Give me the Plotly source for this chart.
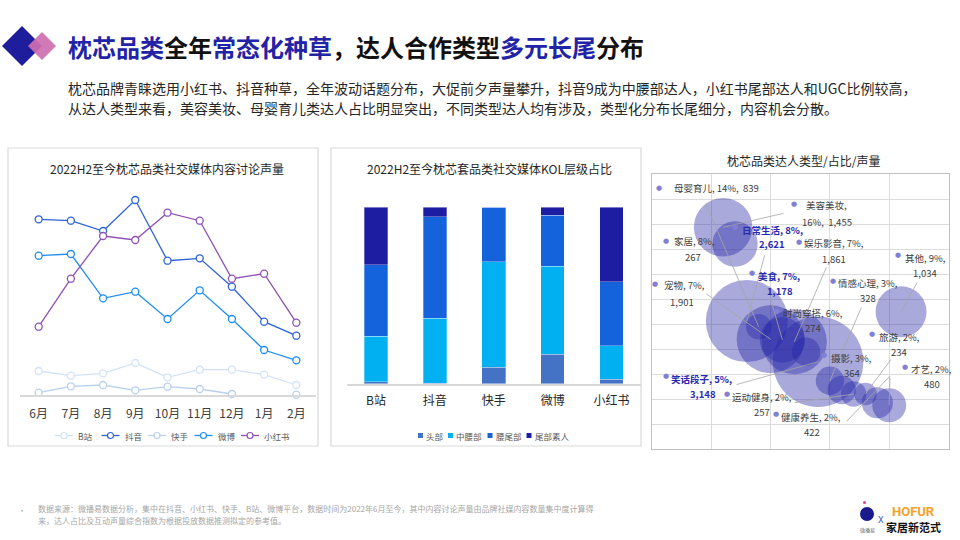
import plotly.graph_objects as go

W, H = 960, 540
FONT = "Noto Sans CJK SC, Noto Sans, sans-serif"

# ---------------- data: line chart (social volume index) ----------------
months = ["6月", "7月", "8月", "9月", "10月", "11月", "12月", "1月", "2月"]
line_names = ["B站", "抖音", "快手", "微博", "小红书"]
vol_bili = [240, 193, 217, 320, 177, 253, 253, 203, 100]
vol_douyin = [1757, 1743, 1640, 1950, 1343, 1367, 1083, 733, 593]
vol_kuaishou = [23, 87, 100, 47, 83, 60, 10, None, 3]
vol_weibo = [1393, 1410, 967, 1033, 760, 1047, 760, 450, 347]
vol_xhs = [683, 1163, 1590, 1550, 1823, 1743, 1163, 1213, 723]

# ---------------- data: stacked bar (KOL tier share, %) ----------------
platforms = ["B站", "抖音", "快手", "微博", "小红书"]
tier_names = ["头部", "中腰部", "腰尾部", "尾部素人"]
tier_head = [1.1, 0.2, 9.3, 16.6, 2.5]
tier_mid = [25.9, 37.0, 59.7, 50.1, 18.9]
tier_waist = [40.3, 57.5, 31.0, 28.8, 36.3]
tier_tail = [32.7, 5.3, 0.0, 4.5, 42.3]

# ---------------- data: bubble chart ----------------
kol_types = ["美容美妆", "家居", "日常生活", "母婴育儿", "宠物", "美食", "娱乐影音", "时尚穿搭",
             "笑话段子", "情感心理", "摄影", "运动健身", "旅游", "才艺", "健康养生", "其他"]
kol_share = [16, 8, 8, 14, 7, 7, 7, 6, 5, 3, 3, 2, 2, 2, 2, 9]
kol_volume = [1455, 267, 2621, 839, 1901, 1178, 1861, 274, 3148, 328, 364, 257, 234, 480, 422, 1034]
bubble_x = [1, 2, 3, 4, 5, 6, 7, 8, 9, 10, 11, 12, 13, 14, 15, 16]
bubble_y = [8.87, 8.2, 5.12, 4.89, 4.39, 4.36, 4.29, 3.89, 3.49, 2.73, 2.36, 2.2, 2.2, 1.85, 1.75, 5.49]
bubble_size = [428, 256, 841, 81, 576, 256, 529, 100, 1024, 100, 100, 81, 64, 121, 144, 324]
highlight = ["日常生活", "美食", "笑话段子"]

# ---------------- helpers (layout only) ----------------
def px(x):
    return x / W


def py(y):
    return 1 - y / H


BX0, BX1, BY0, BY1 = 652, 948.5, 449, 174   # bubble plot area in pixels
XR = (-5, 20)
YR = (0, 11)


def dx(xp):
    return XR[0] + (xp - BX0) / (BX1 - BX0) * (XR[1] - XR[0])


def dy(yp):
    return YR[0] + (BY0 - yp) / (BY0 - BY1) * (YR[1] - YR[0])


fig = go.Figure()

# ---------------- line chart ----------------
line_colors = ["#d3e3f6", "#2f63d4", "#b9d1ee", "#1f8ef1", "#8e50b4"]
for name, vals, col in zip(line_names, [vol_bili, vol_douyin, vol_kuaishou, vol_weibo, vol_xhs], line_colors):
    fig.add_trace(go.Scatter(
        x=months, y=vals, name=name, mode="lines+markers", showlegend=False,
        line=dict(color=col, width=1.3),
        marker=dict(symbol="circle", size=7, color="white", line=dict(color=col, width=1.3)),
        xaxis="x", yaxis="y", cliponaxis=False))

# ---------------- stacked bars ----------------
bar_colors = ["#4472c4", "#00b0f0", "#1463dc", "#1d1da1"]
for name, vals, col in zip(tier_names, [tier_head, tier_mid, tier_waist, tier_tail], bar_colors):
    fig.add_trace(go.Bar(
        x=platforms, y=vals, name=name, showlegend=False,
        marker=dict(color=col, line=dict(color="rgba(255,255,255,0.5)", width=0.6)),
        xaxis="x2", yaxis="y2"))

# ---------------- bubbles ----------------
fig.add_trace(go.Scatter(
    x=bubble_x, y=bubble_y, mode="markers", showlegend=False,
    text=[f"{t}, {s}%, {v:,}" for t, s, v in zip(kol_types, kol_share, kol_volume)],
    hoverinfo="text",
    marker=dict(size=bubble_size, sizemode="area", sizeref=0.25, color="rgba(35,35,165,0.56)", line=dict(width=0)),
    xaxis="x3", yaxis="y3", cliponaxis=False))

# ---------------- bubble labels (layout positions in pixels) ----------------
label_layout = {
    "母婴育儿": dict(dot=(659, 188), l1=(716.5, 188), l2=None, lead=[(705, 202)]),
    "美容美妆": dict(dot=(794, 204), l1=(826.7, 205), l2=(826.7, 221.7), lead=[(785, 213)], split=1),
    "日常生活": dict(dot=(735, 227), l1=(772, 230), l2=(771.7, 244.3), lead=[(765, 254)]),
    "家居": dict(dot=(665.7, 240.7), l1=(694, 241), l2=(692.7, 257.3), lead=None),
    "娱乐影音": dict(dot=(799, 242.3), l1=(834, 243), l2=(834, 259.3), lead=[(827, 266)]),
    "其他": dict(dot=(898.3, 255), l1=(925, 257.7), l2=(925, 272.7), lead=[(918, 281)]),
    "美食": dict(dot=(751.7, 273.3), l1=(778.5, 275.7), l2=(780, 290.7), lead=[(770, 297)]),
    "宠物": dict(dot=(655, 284), l1=(684, 285.3), l2=(681.7, 301.7), lead=[(705, 293)]),
    "情感心理": dict(dot=(832.7, 281), l1=(868, 282.7), l2=(868.3, 298.3), lead=[(862, 306)]),
    "时尚穿搭": dict(dot=(777.3, 311), l1=(813, 313.3), l2=(813.3, 328.3), lead=None),
    "旅游": dict(dot=(871.7, 334.3), l1=(899, 337.3), l2=(899, 352.3), lead=[(892, 358)]),
    "摄影": dict(dot=(824.3, 355.3), l1=(851, 358.3), l2=(851.7, 373.3), lead=None),
    "笑话段子": dict(dot=(665.7, 376), l1=(701.7, 379), l2=(702.7, 394), lead=[(735, 385)]),
    "才艺": dict(dot=(905, 366.7), l1=(931, 369), l2=(931.7, 384), lead=None),
    "运动健身": dict(dot=(726.7, 394), l1=(762, 396.7), l2=(762, 411.7), lead=[(793, 403)]),
    "健康养生": dict(dot=(775.7, 414.3), l1=(811, 416.7), l2=(811.7, 432.3), lead=[(845, 423), (890, 376)]),
}

annotations = []
shapes = []
LEAD_COL = "#a6a6a6"
for i, t in enumerate(kol_types):
    lay = label_layout[t]
    bold = t in highlight
    col = "#2a2ab0" if bold else "#404040"
    s, v = kol_share[i], kol_volume[i]
    if lay["l2"] is None:
        l1, l2 = f"{t}, {s}%,  {v:,}", None
    elif lay.get("split") == 1:
        l1, l2 = f"{t},", f"{s}%,  {v:,}"
    else:
        l1, l2 = f"{t}, {s}%,", f"{v:,}"
    if bold:
        l1 = f"<b>{l1}</b>"
        l2 = f"<b>{l2}</b>" if l2 else None
    if lay["lead"]:
        pts = lay["lead"]
        for k in range(len(pts)):
            sx, sy = dx(pts[k][0]), dy(pts[k][1])
            if k + 1 < len(pts):
                tx, ty = dx(pts[k + 1][0]), dy(pts[k + 1][1])
            else:
                tx, ty = bubble_x[i], bubble_y[i]
            annotations.append(dict(x=tx, y=ty, xref="x3", yref="y3", ax=sx, ay=sy, axref="x3", ayref="y3",
                                    text="", showarrow=True, arrowhead=0, arrowwidth=0.8, arrowcolor=LEAD_COL,
                                    standoff=0, startstandoff=0))
    annotations.append(dict(x=px(lay["dot"][0]), y=py(lay["dot"][1]), xref="paper", yref="paper",
                            text="●", showarrow=False, font=dict(size=7, color="#8080d2", family="DejaVu Sans"),
                            xanchor="center", yanchor="middle"))
    annotations.append(dict(x=px(lay["l1"][0]), y=py(lay["l1"][1]), xref="paper", yref="paper",
                            text=l1, showarrow=False, font=dict(size=9.5, color=col),
                            xanchor="center", yanchor="middle"))
    if l2:
        annotations.append(dict(x=px(lay["l2"][0]), y=py(lay["l2"][1]), xref="paper", yref="paper",
                                text=l2, showarrow=False, font=dict(size=9.5, color=col),
                                xanchor="center", yanchor="middle"))

# ---------------- legends (drawn compactly, names/colours from the data lists) ----------------
LEG_Y = 435.5
for k, (name, col) in enumerate(zip(line_names, line_colors)):
    x0 = 55 + 46.5 * k
    shapes.append(dict(type="line", xref="paper", yref="paper", x0=px(x0), x1=px(x0 + 18), y0=py(LEG_Y),
                       y1=py(LEG_Y), line=dict(color=col, width=1.3)))
    shapes.append(dict(type="circle", xref="paper", yref="paper", x0=px(x0 + 6), x1=px(x0 + 12),
                       y0=py(LEG_Y + 3), y1=py(LEG_Y - 3), fillcolor="white", line=dict(color=col, width=1.2)))
    annotations.append(dict(x=px(x0 + 21), y=py(LEG_Y), xref="paper", yref="paper", text=name, showarrow=False,
                            xanchor="left", yanchor="middle", font=dict(size=8.5, color="#595959")))

bar_leg_x = [418, 448, 487.5, 526.5]
for k, (name, col) in enumerate(zip(tier_names, bar_colors)):
    x0 = bar_leg_x[k]
    shapes.append(dict(type="rect", xref="paper", yref="paper", x0=px(x0), x1=px(x0 + 5),
                       y0=py(LEG_Y + 2.5), y1=py(LEG_Y - 2.5), fillcolor=col, line=dict(width=0)))
    annotations.append(dict(x=px(x0 + 6), y=py(LEG_Y), xref="paper", yref="paper", text=name, showarrow=False,
                            xanchor="left", yanchor="middle", font=dict(size=8.5, color="#595959")))

# ---------------- header / titles / footnote ----------------
BLUE = "#2323a6"
title_html = ('<b><span style="color:%s">枕芯品类</span>全年'
              '<span style="color:%s">常态化种草</span>，达人合作类型'
              '<span style="color:%s">多元长尾</span>分布</b>') % (BLUE, BLUE, BLUE)
annotations.append(dict(x=px(66), y=py(47), xref="paper", yref="paper", text=title_html, showarrow=False,
                        xanchor="left", yanchor="middle", font=dict(size=24, color="#111111")))
sub1 = "枕芯品牌青睐选用小红书、抖音种草，全年波动话题分布，大促前夕声量攀升，抖音9成为中腰部达人，小红书尾部达人和UGC比例较高，"
sub2 = "从达人类型来看，美容美妆、母婴育儿类达人占比明显突出，不同类型达人均有涉及，类型化分布长尾细分，内容机会分散。"
for s, yy in [(sub1, 88), (sub2, 108)]:
    annotations.append(dict(x=px(66), y=py(yy), xref="paper", yref="paper", text=s, showarrow=False,
                            xanchor="left", yanchor="middle", font=dict(size=14, color="#262626")))

panel_titles = [("2022H2至今枕芯品类社交媒体内容讨论声量", 167, 168),
                ("2022H2至今枕芯套品类社交媒体KOL层级占比", 490, 168),
                ("枕芯品类达人类型/占比/声量", 803, 160)]
for s, xx, yy in panel_titles:
    annotations.append(dict(x=px(xx), y=py(yy), xref="paper", yref="paper", text=s, showarrow=False,
                            xanchor="center", yanchor="middle", font=dict(size=12, color="#262626")))

foot1 = "数据来源：微播易数据分析，集中在抖音、小红书、快手、B站、微博平台，数据时间为2022年6月至今，其中内容讨论声量由品牌社媒内容数量集中度计算得"
foot2 = "来，达人占比及互动声量综合指数为根据投放数据推测拟定的参考值。"
annotations.append(dict(x=px(22), y=py(510), xref="paper", yref="paper", text="•", showarrow=False,
                        xanchor="center", yanchor="middle", font=dict(size=8, color="#a6a6a6")))
for s, yy in [(foot1, 509), (foot2, 520)]:
    annotations.append(dict(x=px(36), y=py(yy), xref="paper", yref="paper", text=s, showarrow=False,
                            xanchor="left", yanchor="middle", font=dict(size=8, color="#a6a6a6")))

# logo texts
annotations.append(dict(x=px(913), y=py(511), xref="paper", yref="paper", text="<b>HOFUR</b>", showarrow=False,
                        xanchor="center", yanchor="middle", font=dict(size=13, color="#f2a22a", family="Roboto")))
annotations.append(dict(x=px(913), y=py(527), xref="paper", yref="paper", text="<b>家居新范式</b>", showarrow=False,
                        xanchor="center", yanchor="middle", font=dict(size=11, color="#111111")))
annotations.append(dict(x=px(881), y=py(520), xref="paper", yref="paper", text="X", showarrow=False,
                        xanchor="center", yanchor="middle", font=dict(size=9, color="#4a5ad0", family="Roboto")))
annotations.append(dict(x=px(867), y=py(530), xref="paper", yref="paper", text="微播易", showarrow=False,
                        xanchor="center", yanchor="middle", font=dict(size=5, color="#666666")))

# ---------------- shapes ----------------
def rect(x0, y0, x1, y1, color, width=1):
    return dict(type="rect", xref="paper", yref="paper", x0=px(x0), x1=px(x1), y0=py(y1), y1=py(y0),
                line=dict(color=color, width=width), fillcolor="rgba(0,0,0,0)", layer="below")


def diamond(cx, cy, r, color):
    pts = [(cx, cy - r), (cx + r, cy), (cx, cy + r), (cx - r, cy)]
    path = "M " + " L ".join(f"{px(a)},{py(b)}" for a, b in pts) + " Z"
    return dict(type="path", xref="paper", yref="paper", path=path, fillcolor=color, line=dict(width=0))


shapes += [
    rect(8, 148, 318, 446, "#d9d9d9", 1.2),
    rect(331, 148, 641, 446, "#d9d9d9", 1.2),
    diamond(22, 46, 20, "#1e1e9c"),
    diamond(42, 46, 14, "rgba(206,110,178,0.92)"),
    dict(type="circle", xref="paper", yref="paper", x0=px(860), x1=px(874), y0=py(521), y1=py(507),
         fillcolor="#1a1a8a", line=dict(width=0)),
    dict(type="circle", xref="paper", yref="paper", x0=px(863), x1=px(866), y0=py(504), y1=py(501),
         fillcolor="#e0409a", line=dict(width=0)),
]

# ---------------- layout ----------------
fig.update_layout(
    width=W, height=H, margin=dict(l=0, r=0, t=0, b=0),
    paper_bgcolor="white", plot_bgcolor="rgba(0,0,0,0)",
    font=dict(family=FONT, color="#404040"),
    barmode="stack", bargap=0.6, showlegend=False,
    xaxis=dict(domain=[19.5 / W, 315.5 / W], type="category", showline=True, linecolor="#d9d9d9", linewidth=2,
               ticks="outside", ticklen=7, tickcolor="rgba(0,0,0,0)", tickfont=dict(size=12, color="#404040"),
               showgrid=False, zeroline=False, fixedrange=True),
    yaxis=dict(domain=[py(395), py(190)], range=[0, 2050], visible=False, fixedrange=True),
    xaxis2=dict(domain=[346.5 / W, 641 / W], type="category", showline=True, linecolor="#d9d9d9", linewidth=2,
                ticks="outside", ticklen=5, tickcolor="rgba(0,0,0,0)", tickfont=dict(size=12, color="#262626"),
                showgrid=False, zeroline=False, anchor="y2", fixedrange=True),
    yaxis2=dict(domain=[py(383.7), py(207.3)], range=[0, 100], visible=False, anchor="x2", fixedrange=True),
    xaxis3=dict(domain=[BX0 / W, BX1 / W], range=list(XR), tick0=-5, dtick=5, showgrid=True, gridcolor="#dcdcdc",
                gridwidth=1, showline=True, mirror=True, linecolor="#c0c0c0", linewidth=1,
                showticklabels=False, ticks="", zeroline=False, anchor="y3", fixedrange=True),
    yaxis3=dict(domain=[py(BY0), py(BY1)], range=list(YR), tick0=0, dtick=1, showgrid=True, gridcolor="#dcdcdc",
                gridwidth=1, showline=True, mirror=True, linecolor="#c0c0c0", linewidth=1,
                showticklabels=False, ticks="", zeroline=False, anchor="x3", fixedrange=True),
    annotations=annotations,
    shapes=shapes,
)

fig.write_html("out.html", config={"displayModeBar": False},
               post_script="document.body.style.margin='0px';")
